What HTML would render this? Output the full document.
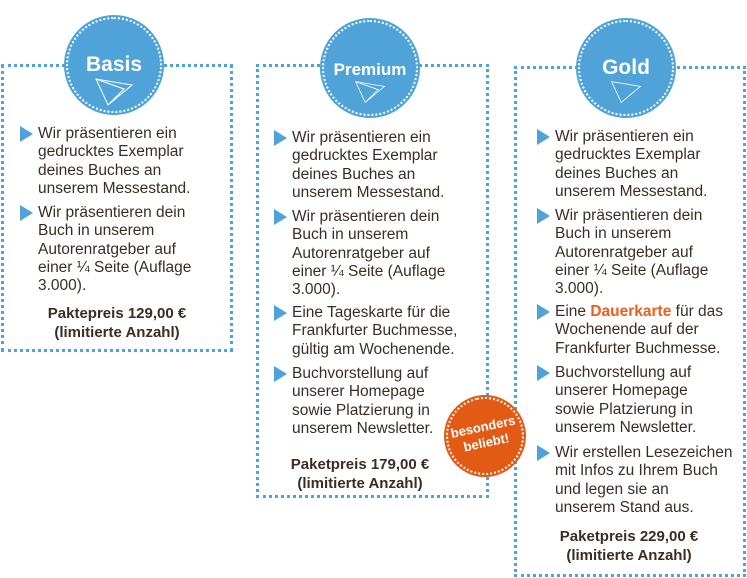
<!DOCTYPE html>
<html><head><meta charset="utf-8"><style>
body{margin:0;width:747px;height:578px;background:#fff;position:relative;overflow:hidden;font-family:"Liberation Sans",sans-serif;color:#3b2d22}
.box{position:absolute;border:3px dotted #4fa3d9;box-sizing:border-box}
.c{position:absolute;border-radius:50%;background:#4fa3d9;border:2px dotted #fff;box-shadow:0 0 0 2px #4fa3d9;color:#fff;font-weight:bold;text-align:center}
.t{position:absolute;font-size:15.5px;line-height:18.3px;width:200px}
.t:before{content:"";position:absolute;left:-18px;top:1px;border-left:13px solid #4fa3d9;border-top:8px solid transparent;border-bottom:8px solid transparent}
.p{position:absolute;font-weight:bold;font-size:15px;line-height:19px;text-align:center;width:230px}
</style></head><body>
<div class="box" style="left:1px;top:64px;width:232px;height:288px"></div>
<div class="box" style="left:256px;top:64px;width:233px;height:434px"></div>
<div class="box" style="left:514px;top:66px;width:232px;height:511px"></div>

<div class="c" style="left:66px;top:17px;width:92px;height:92px"><div style="margin-top:34px;font-size:21px">Basis</div><svg width="40" height="30" viewBox="0 0 40 30"><path d="M2 2 L38 8 L14 28 Z M2 2 L30 12 L14 28" fill="none" stroke="#fff" stroke-width="1"/></svg></div>
<div class="c" style="left:322px;top:20px;width:92px;height:92px"><div style="margin-top:38px;font-size:17px">Premium</div><svg width="40" height="24" viewBox="0 0 40 30"><path d="M2 2 L38 8 L14 28 Z M2 2 L30 12 L14 28" fill="none" stroke="#fff" stroke-width="1"/></svg></div>
<div class="c" style="left:578px;top:20px;width:92px;height:92px"><div style="margin-top:34px;font-size:21px">Gold</div><svg width="40" height="24" viewBox="0 0 40 30"><path d="M2 2 L38 8 L14 28 Z" fill="none" stroke="#fff" stroke-width="1"/></svg></div>

<div class="t" style="left:38px;top:125px">Wir präsentieren ein<br>gedrucktes Exemplar<br>deines Buches an<br>unserem Messestand.</div>
<div class="t" style="left:38px;top:204px">Wir präsentieren dein<br>Buch in unserem<br>Autorenratgeber auf<br>einer ¼ Seite (Auflage<br>3.000).</div>
<div class="p" style="left:2px;top:304px">Paktepreis 129,00 €<br>(limitierte Anzahl)</div>

<div class="t" style="left:292px;top:129px">Wir präsentieren ein<br>gedrucktes Exemplar<br>deines Buches an<br>unserem Messestand.</div>
<div class="t" style="left:292px;top:208px">Wir präsentieren dein<br>Buch in unserem<br>Autorenratgeber auf<br>einer ¼ Seite (Auflage<br>3.000).</div>
<div class="t" style="left:292px;top:304px">Eine Tageskarte für die<br>Frankfurter Buchmesse,<br>gültig am Wochenende.</div>
<div class="t" style="left:292px;top:365px">Buchvorstellung auf<br>unserer Homepage<br>sowie Platzierung in<br>unserem Newsletter.</div>
<div class="p" style="left:245px;top:455px">Paketpreis 179,00 €<br>(limitierte Anzahl)</div>

<div class="t" style="left:555px;top:128px">Wir präsentieren ein<br>gedrucktes Exemplar<br>deines Buches an<br>unserem Messestand.</div>
<div class="t" style="left:555px;top:207px">Wir präsentieren dein<br>Buch in unserem<br>Autorenratgeber auf<br>einer ¼ Seite (Auflage<br>3.000).</div>
<div class="t" style="left:555px;top:303px">Eine <b style="color:#e8601c">Dauerkarte</b> für das<br>Wochenende auf der<br>Frankfurter Buchmesse.</div>
<div class="t" style="left:555px;top:364px">Buchvorstellung auf<br>unserer Homepage<br>sowie Platzierung in<br>unserem Newsletter.</div>
<div class="t" style="left:555px;top:444px">Wir erstellen Lesezeichen<br>mit Infos zu Ihrem Buch<br>und legen sie an<br>unserem Stand aus.</div>
<div class="p" style="left:514px;top:527px">Paketpreis 229,00 €<br>(limitierte Anzahl)</div>

<div style="position:absolute;left:446px;top:397px;width:74px;height:74px;border-radius:50%;background:#e35a15;border:2px dotted #fff;box-shadow:0 0 0 2px #e35a15;color:#fff;font-weight:bold;font-size:13px;line-height:16px;text-align:center;transform:rotate(-12deg)"><div style="margin-top:20px">besonders<br>beliebt!</div></div>
</body></html>
